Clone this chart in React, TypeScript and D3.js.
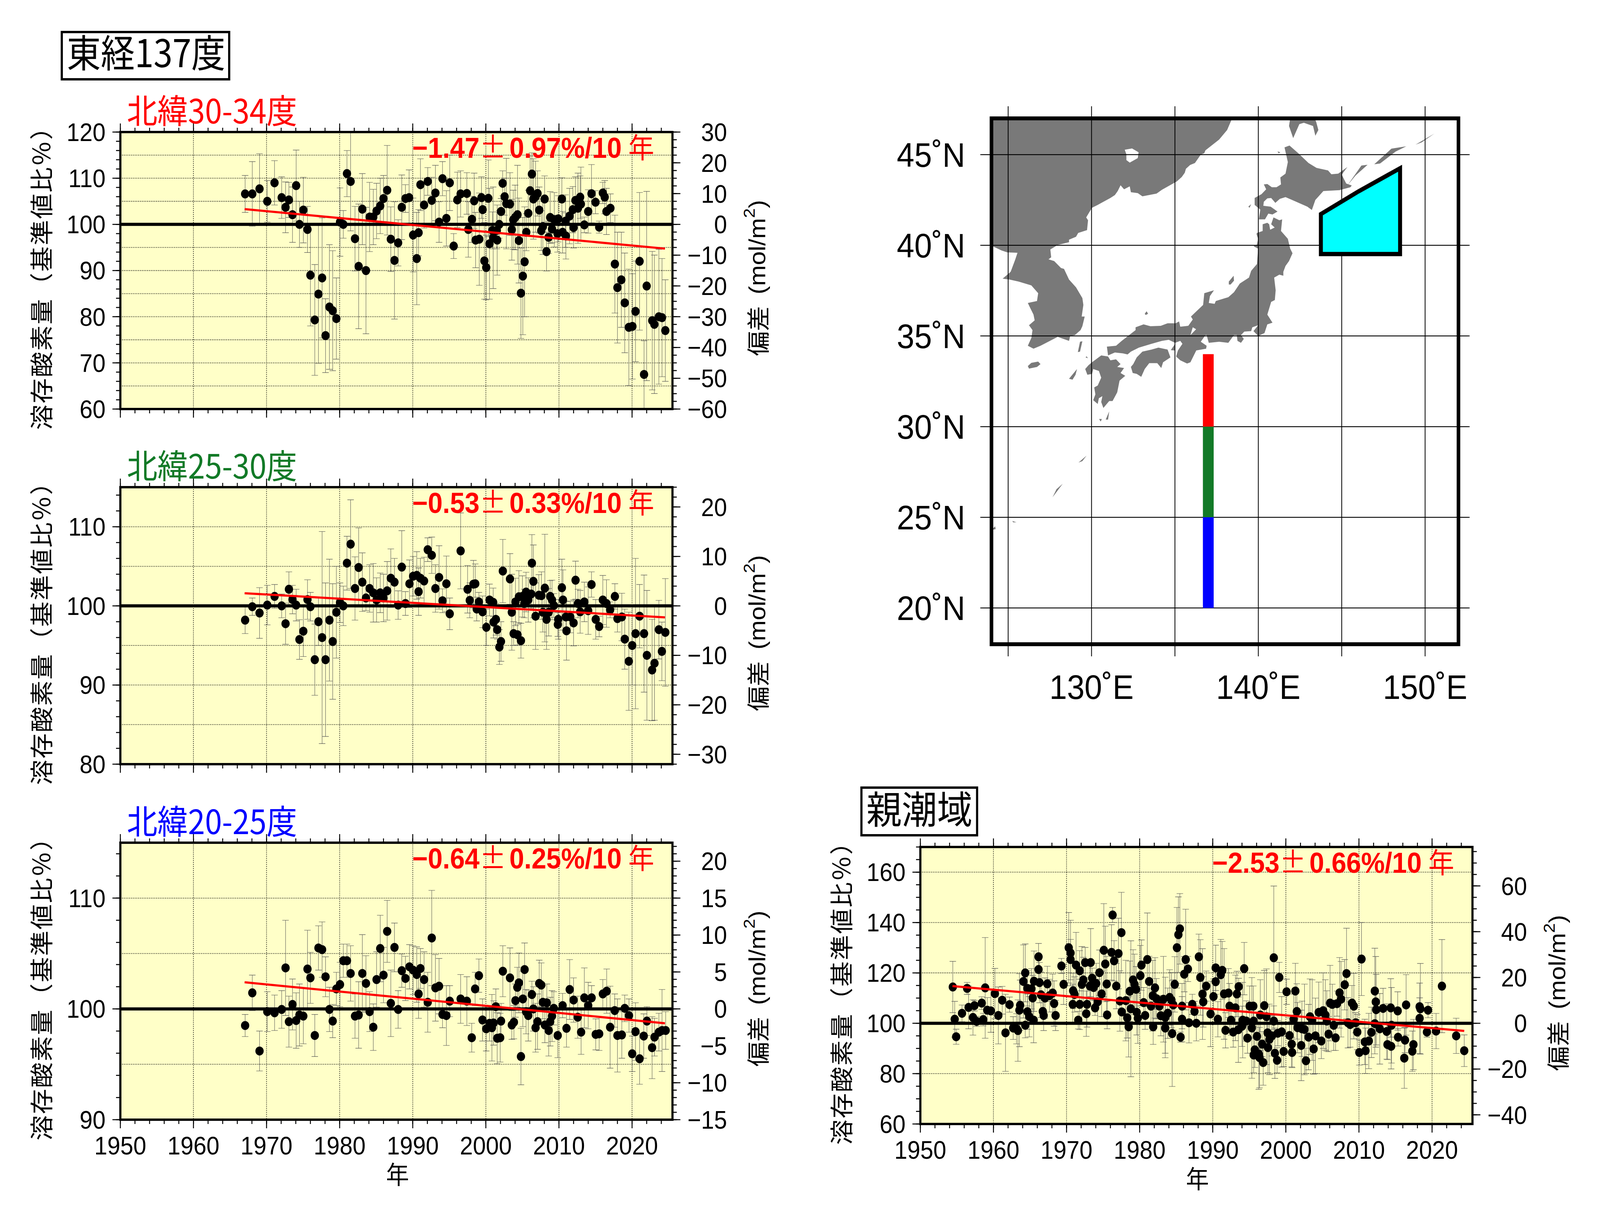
import React from "react";
import * as d3 from "d3";

type P = [number, number, number];

// year, percent of reference, half error
const dataN30: P[] = [[1967.07,106.6,4],[1968.05,106.6,7],[1969.04,107.7,7.6],[1970.1,105,4.5],[1971.09,109,4.8],[1972.07,105.8,4.5],[1972.6,103.7,5.5],[1973.06,105.3,3.8],[1973.55,102.1,6],[1974.05,108.4,7.7],[1974.5,100,5],[1975.03,103.1,7.1],[1975.6,98.9,5],[1976,89,11],[1976.6,79.3,12],[1977.1,84.9,15],[1977.6,88.4,13],[1978.07,75.9,8],[1978.6,82.1,13.5],[1979.05,81.3,13],[1979.55,79.6,8.8],[1980.05,100.5,7.4],[1980.5,100,3],[1981,111,5],[1981.5,109.3,10.7],[1982.1,96.9,7],[1982.6,90.9,13.5],[1983.1,103.3,7.7],[1983.6,90,13.7],[1984.1,101.6,7.5],[1984.6,101.6,6],[1985.05,102.9,6],[1985.55,104,6],[1986,105.6,5],[1986.5,107.4,9.7],[1987,96.8,7],[1987.5,92.2,12.7],[1988,96,5],[1988.5,103.7,7],[1989,105.6,3],[1989.5,105.8,6],[1990.05,97.7,8],[1990.55,92.6,10],[1990.8,98.2,5],[1991.05,108.6,5.6],[1991.55,104.2,5],[1992.05,109.3,3],[1992.6,105.2,5],[1993.1,106.8,6],[1993.6,100.5,4.4],[1994.07,109.9,3.7],[1994.6,101.3,6],[1995.06,109,6],[1995.6,95.3,2.7],[1996.1,105.3,6],[1996.55,106.6,5],[1997.4,106.7,4.5],[1997.6,98.9,6],[1998.1,101.1,5],[1998.4,105.1,6],[1998.6,96.6,6],[1999.1,96.8,10],[1999.4,105.8,4.5],[1999.56,103.2,3],[1999.8,92.1,8.3],[2000.05,90.65,7],[2000.34,105.65,8.3],[2000.5,95.8,12],[2000.9,98.7,4],[2001,97.1,11],[2001.5,98.7,4],[2001.55,96.6,7.6],[2001.83,100,3],[2002.08,102.8,2.8],[2002.3,108.9,2.7],[2002.57,106,4],[2002.8,104.5,9.8],[2003.3,104.4,6.8],[2003.55,98.85,6.6],[2003.75,101,6.4],[2004,101.5,7],[2004.33,102.1,10.7],[2004.52,96.5,9.2],[2004.8,85.1,9.8],[2005.06,88.8,12.7],[2005.3,91.9,11.9],[2005.53,98.3,4],[2005.8,102.4,5],[2006.06,107.3,7.5],[2006.3,110.9,4.6],[2006.5,105.5,8.7],[2006.8,106,7.7],[2007.07,106.7,4.9],[2007.3,103.1,5],[2007.58,98.65,4.3],[2007.8,99.5,6],[2008.04,105.5,5],[2008.3,94.1,4.2],[2008.58,97.2,3.5],[2008.8,101.5,5.6],[2009.05,99,3],[2009.36,101,5.9],[2009.8,98,4],[2009.9,101.2,5],[2010.4,105.5,4.6],[2010.5,98.3,4.5],[2010.9,100.7,5.7],[2010.95,97.5,5],[2011.45,101.8,6],[2011.9,103.2,5],[2012,99.3,4.4],[2012.25,105.2,5.1],[2012.6,103.5,7.6],[2012.9,105.9,4.6],[2013,104.4,8],[2013.47,99.9,1.7],[2014,102.8,4.7],[2014.45,106.65,6.3],[2015,104.8,2.5],[2015.5,99.4,1.3],[2016,106.8,2.3],[2016.26,105.9,3.6],[2016.5,102.8,5],[2017.04,103.5,3.1],[2017.65,91.4,10.6],[2018,86.3,12],[2018.53,88,10.3],[2019,83,10.8],[2019.56,77.7,12.6],[2020.05,77.9,11.4],[2020.47,81.15,10.9],[2021.03,92,14.9],[2021.64,67.5,7.3],[2022,86.65,20.5],[2022.76,79.15,15],[2023.05,78.35,15],[2023.67,80,14.6],[2024.1,79.8,12.8],[2024.55,77,11]];

const dataN25: P[] = [[1967.07,98.2,1.7],[1968.05,99.9,1.1],[1969.04,99.1,3.2],[1970.1,100.1,2.5],[1971.1,101.2,1.5],[1972.07,100,1.5],[1972.6,97.75,2.6],[1973.06,102.1,2.2],[1973.55,100.8,1.8],[1974.05,100.1,2],[1974.5,95.75,2.5],[1975.03,96.8,3.2],[1975.6,100.8,2.5],[1976,99.9,1.8],[1976.6,93.2,4.5],[1977.1,98,3],[1977.6,96,13.4],[1978.07,93.2,9.7],[1978.6,98.2,7.7],[1979.05,95.5,7.3],[1979.55,99.2,5.8],[1980.05,100.4,2.5],[1980.5,100,2.5],[1981,105.4,3.4],[1981.5,107.8,5.6],[1982.1,102.2,4],[1982.6,104.85,5],[1983.1,103,3.7],[1983.6,101,1.6],[1984.1,102.2,3],[1984.6,101.65,3.7],[1985.05,100.75,2.8],[1985.55,101.65,2.5],[1986,101,3],[1986.5,101.9,3.7],[1987,103.5,3.7],[1987.5,103,3],[1988,100.1,1.8],[1988.5,104.9,4.6],[1989,100.3,1.5],[1989.55,102.8,3],[1990.05,103.75,2.5],[1990.55,103.85,3],[1990.8,101.8,3],[1991.05,103.5,2.5],[1991.55,103.15,3],[1992.05,107.1,1.5],[1992.6,106.4,2.3],[1993.1,102.2,3],[1993.6,103.6,4],[1994.07,100.65,1.5],[1994.6,102.8,3.5],[1995.06,99,2],[1996.55,106.95,4.8],[1997.5,102.1,3],[1997.8,100.7,2.2],[1998.3,102.75,3],[1998.55,102.8,2.5],[1998.75,99.6,1.5],[1999.05,100.5,1.2],[1999.55,99.25,2],[2000.07,97.3,2.3],[2000.5,100.75,2],[2001,100.45,1.8],[2001.05,97.95,2],[2001.37,98.3,2],[2001.55,97,1.2],[2002.07,95.5,2.5],[2001.85,94.8,2.2],[2002.32,104.4,4],[2003.3,103.4,3.2],[2003.55,99.2,4.8],[2003.8,96.5,1.5],[2004.05,100.5,3],[2004.33,96.35,1.3],[2004.52,101.15,3.3],[2004.8,95.6,2.2],[2005,101.2,2.6],[2005.25,100.3,1.8],[2005.5,101.75,2.5],[2005.8,100.75,2.8],[2006.2,101.5,1.8],[2006.3,105.4,3.6],[2006.5,103.1,4.6],[2006.8,98.7,4.2],[2007.25,101.35,2.6],[2007.6,101.3,3],[2007.8,99.2,2.5],[2008.07,102.25,6.8],[2008.3,98.3,3.8],[2008.6,99.2,3],[2008.8,101.2,2],[2009.05,100.75,2.5],[2009.3,100.05,1.5],[2009.85,97.65,1.5],[2009.9,98.3,2.5],[2010.4,102.3,3.6],[2010.55,100.75,3.8],[2010.95,98.6,2],[2011.03,96.85,3.7],[2011.55,98.6,2],[2012,97.85,2.9],[2012.27,103.25,2.4],[2012.6,100.3,1.8],[2012.9,99.25,2.7],[2013.47,100.5,2.5],[2014,99.4,3],[2014.45,102.7,1.6],[2015.03,98.3,2.5],[2015.5,97.4,1.3],[2016,100.75,3.1],[2016.5,100.3,3],[2017,99.5,1],[2017.65,101.2,1.6],[2018,98.4,1.7],[2018.6,98.6,3],[2019,95.8,3.8],[2019.56,93,6.2],[2020.02,95,5],[2020.47,96.5,9.5],[2021.03,98.7,4],[2021.64,96.5,7.4],[2022.03,93.75,8.2],[2022.74,91.9,6.4],[2023.07,92.75,7.2],[2023.67,97,3.7],[2024.08,94.25,3.7],[2024.55,96.65,6.8]];

const dataN20: P[] = [[1967.07,98.5,1],[1968.05,101.45,1.6],[1969.04,96.2,1.8],[1970.1,99.75,1.8],[1971.1,99.65,1.6],[1972.07,99.95,1.7],[1972.6,103.7,4.3],[1973.06,98.85,2.3],[1973.55,100.4,2.3],[1974.05,98.95,2.5],[1974.5,99.45,2.8],[1975.03,99.35,2.5],[1975.6,103.6,3.5],[1976,102.8,2.3],[1976.6,97.6,1.9],[1977.1,105.5,2],[1977.6,105.35,2.5],[1978.07,102.9,1.8],[1978.6,99.95,2],[1979.05,98.9,1.5],[1979.55,101.8,1.5],[1980.05,102.2,2],[1980.5,104.35,1.5],[1981,104.35,1.5],[1981.5,103.2,2.5],[1982.1,99.35,2],[1982.6,99.45,3],[1983.1,103.2,3.5],[1983.6,102.3,2.5],[1984.1,99.75,1.8],[1984.6,98.35,2.1],[1985.05,102.65,2.5],[1985.55,105.45,3],[1986,103.05,2.5],[1986.5,107,2.8],[1987,100.5,3],[1987.5,105.55,2.2],[1988,99.95,1.7],[1988.5,103.45,1.5],[1989,102.75,2],[1989.55,103.8,2],[1990.05,103.5,2.2],[1990.55,103.1,2.5],[1990.8,101.35,2.2],[1991.05,103.65,1.8],[1991.55,102.65,2.5],[1992.05,100.6,2.7],[1992.6,106.4,4.3],[1993.1,101.9,3],[1993.6,102.05,2.5],[1994.07,99.5,1.2],[1994.6,99.4,2.7],[1995.06,100.7,1.4],[1996.55,100.9,2.2],[1997.4,100.7,2.2],[1998.07,97.4,1.3],[1998.53,101.8,1.5],[1999.05,103,1.5],[1999.54,99,1.9],[2000.05,98.2,2],[2000.5,98.7,1.6],[2000.83,98.3,3],[2001.05,98.73,2],[2001.37,100.2,1.6],[2001.55,97.35,2.3],[2001.96,97.4,2.2],[2002.08,98.9,1.6],[2002.32,103.4,2.3],[2003.3,102.8,2.7],[2003.55,98.55,1.3],[2003.84,98.8,1.5],[2004.05,100.75,1.5],[2004.3,101.95,1.8],[2004.52,102.35,2.7],[2004.8,95.7,2.55],[2005.06,100.9,2.5],[2005.3,103.55,2.4],[2005.5,99.75,2],[2005.8,99.4,2.3],[2006.3,101.3,1.2],[2006.5,100,2],[2006.8,98.3,2.2],[2007.07,98.85,2.5],[2007.3,102.3,2.1],[2007.58,102.15,2],[2007.8,100.6,1.5],[2008.07,98.55,1.6],[2008.34,100.55,1.7],[2008.6,98.05,2.3],[2008.8,98.85,2.2],[2009.05,99.35,2.3],[2009.3,100.05,1.5],[2009.83,97.6,2],[2010.5,100.3,1.1],[2011.03,98.25,1.7],[2011.47,101.75,2.7],[2012,100.8,2],[2012.57,99.25,1.9],[2013.03,97.9,2],[2013.47,101,2.7],[2014,100.3,2.1],[2014.47,101,1.1],[2015.03,97.7,1.4],[2015.5,97.75,1.5],[2016,101.35,1.3],[2016.53,101.6,2],[2017,98.35,3.7],[2017.63,99.85,1.5],[2018,97.6,3.3],[2018.6,97.65,2.1],[2019,100.05,1.2],[2019.58,99.4,1.5],[2020.02,95.95,1.6],[2020.47,97.95,2.6],[2021.03,95.5,2.3],[2021.6,97.55,2],[2022.03,98.9,1.3],[2022.74,96.5,2.8],[2023.07,97.45,1.7],[2023.67,97.9,1.7],[2024.1,98.05,3.7],[2024.6,98.05,1.7]];

const dataOyashio: P[] = [[1954.44,114.4,10.2],[1954.7,101.6,7.1],[1954.9,94.65,3],[1955.7,103.95,3.3],[1956.4,113.85,2.4],[1956.6,106.3,8.5],[1957.2,102.3,7],[1957.4,107,2.1],[1957.7,100.75,2],[1958.4,108,2.5],[1958.6,101.45,2.5],[1958.87,114.05,20],[1959.15,105.2,5],[1959.65,104.9,8.5],[1960.2,111.8,10],[1960.67,103.1,11.3],[1961.2,109.15,5.5],[1961.65,96.2,15.3],[1962.2,107.4,3],[1962.7,98.1,4.5],[1963.15,97.8,6],[1963.35,97.1,12.2],[1963.55,105.2,14.5],[1963.65,107.15,10],[1964.1,116.6,14.5],[1964.35,120,11.5],[1964.35,99.2,5],[1964.65,113.85,7],[1964.65,104.6,7],[1964.9,102.6,8],[1965.2,113.7,8],[1965.37,110.05,9],[1965.5,101.25,9],[1965.55,116.7,12],[1966.17,121.35,5],[1966.17,126.4,5.3],[1966.3,116.15,8],[1966.5,111.3,9],[1966.75,104.7,5],[1966.87,103.1,6],[1967.05,110,8],[1967.37,115.65,7],[1967.67,110.95,6.5],[1968.1,112,7.5],[1968.3,107.85,9],[1968.5,103.1,6],[1969.3,122.75,3],[1969.6,115.45,8],[1970.3,130,14],[1970.55,127.9,13],[1970.55,125.3,8],[1970.85,107.5,8],[1970.9,112.9,7],[1971.1,111.45,7],[1971.3,123.1,13],[1971.6,101.25,3.5],[1971.8,107.5,10],[1971.8,120.85,8],[1972.1,115.45,15],[1972.3,117.2,9],[1972.55,124.1,6],[1972.7,103.8,9],[1972.8,107.5,9],[1973.2,114.75,8],[1973.3,124.1,13.5],[1973.5,117.9,4],[1973.7,114.2,5],[1973.9,106.1,3],[1974.05,115.8,8],[1974.25,108.5,9],[1974.5,120.1,9],[1974.8,111.65,9],[1975.1,129,18.5],[1975.3,123.55,15],[1975.5,115.6,11],[1975.55,103.3,5.5],[1976.15,128.15,11],[1976.3,143,3],[1976.5,124.8,8],[1976.8,114.75,9],[1977.1,127.7,14],[1977.3,108.85,12],[1977.5,136,16],[1977.55,104.5,5],[1978.1,109,16],[1978.3,102.15,8],[1978.5,98.6,12],[1978.65,112.7,12],[1978.8,105.75,27],[1979.1,117.2,12],[1979.3,115.45,12],[1979.5,113.5,9],[1979.6,104.35,9],[1979.75,102,10],[1980.1,118.9,12],[1980.25,123.1,10],[1980.55,108.2,6],[1980.75,103.1,5.5],[1981.05,125.3,18.5],[1981.3,116.6,10],[1981.55,106.8,7],[1981.8,110.95,14],[1981.85,98.6,7],[1982.1,114.05,12],[1982.3,109.75,8],[1982.7,106.8,3],[1982.9,103,8],[1983.25,109.55,17],[1983.5,102.3,16],[1983.5,98.1,10],[1983.85,104,10],[1984.1,110.25,11],[1984.35,109.2,11],[1984.6,107.3,10],[1984.45,95.9,21],[1984.8,115.45,11],[1985.1,130,16],[1985.3,135.2,15],[1985.5,137.5,14],[1985.6,94.5,2],[1985.8,106.8,9],[1985.8,101.6,9],[1986.1,119.5,7],[1986.3,125.3,20],[1986.6,121.55,5],[1986.75,100.2,8],[1987.2,107.5,4],[1987.5,104.7,4],[1987.75,100,7],[1988.1,126.4,9],[1988.3,118.2,15],[1988.6,111.6,18],[1988.7,108.5,10],[1989.1,114.75,6],[1989.7,103.7,13],[1990.1,110.6,7],[1990.4,122,9],[1990.4,116.5,5],[1990.7,101.6,7],[1991.1,119.3,14],[1991.3,121,11.5],[1991.55,111.65,18],[1991.75,97.2,7],[1992.15,112,9.7],[1992.3,106.8,9],[1992.5,101.25,6],[1992.8,96.5,6],[1993.1,106.1,13],[1993.3,111.65,9],[1993.5,97.45,13],[1993.55,114.55,3.3],[1994,98.8,8],[1994.1,101.25,15],[1994.3,121.7,10.4],[1994.6,100.9,8],[1994.75,94.1,6],[1995.05,106.8,8],[1995.35,98.15,20],[1995.55,106.8,8],[1995.6,100.9,7],[1995.6,87.4,7],[1995.75,89.45,7],[1996.05,94.8,5],[1996.3,87.75,14],[1996.4,86.35,12],[1996.5,103.3,14],[1996.75,91.7,5],[1996.9,84.4,9],[1997.05,107,14],[1997.35,102.6,19],[1997.5,96.2,5],[1997.55,90.35,10],[1997.75,93.6,14],[1998.1,95,8],[1998.35,100.9,6],[1998.35,126,28.5],[1998.5,88.1,10],[1998.8,85.3,5],[1998.9,96.05,5],[1999.1,118.2,6],[1999.43,96.6,14],[1999.7,88.8,6],[2000.1,112.5,5],[2000.5,95.15,7],[2000.8,91.7,9],[2000.85,88.4,6],[2001.07,101.6,10],[2001.3,112.8,11],[2001.5,104.7,11],[2001.6,98.25,10],[2002.1,91.2,14],[2002.2,97.8,11],[2002.55,97.55,18],[2002.75,85.1,5],[2003.1,94.5,13],[2003.3,102.6,15],[2003.6,101.25,16],[2003.8,89.8,10],[2004.05,95,15],[2004.5,104.35,12],[2004.85,92.95,7],[2005.1,105,15],[2005.4,103.3,14],[2005.6,100.9,12],[2005.85,95.7,7],[2006.05,108,15],[2006.35,107.5,8],[2006.55,99.2,10],[2006.8,94.2,5],[2007,107.8,5],[2007.35,112.1,14],[2007.55,109.55,15],[2008.05,115.3,10],[2008.3,119.75,18],[2008.5,100.2,10],[2008.8,99.5,9],[2009.05,108,7],[2009.3,106.8,13],[2009.55,100.2,4],[2009.77,96.5,7],[2010.05,88.4,5],[2010.35,125.5,14.5],[2010.8,92.6,9],[2010.9,89.1,9],[2011.35,92.95,11],[2011.7,96.4,10],[2012.17,112.8,17],[2012.17,99.85,12],[2012.3,108.5,18],[2012.35,105.4,14],[2012.85,97.8,14],[2013.3,105.9,8],[2013.8,96.75,11],[2013.9,91.55,6],[2014.35,106.1,11.6],[2014.4,90.85,9],[2014.45,99.2,15],[2015.3,104.9,7.6],[2015.35,94.45,3.5],[2016.2,86.15,12],[2016.3,93.3,5],[2016.45,107.3,12],[2017.3,88.9,8],[2017.45,91.55,10],[2018.3,106.6,3.5],[2018.3,101.95,14],[2018.4,105.75,18],[2019.3,96.5,2],[2019.45,105.2,3],[2020.55,96.9,7],[2021.35,114.75,18.5],[2023.3,95,7],[2024.4,89.1,6.3]];

// trend: [year, percent] ends
const trendN30: [number, number][] = [[1967, 103.3], [2024.5, 94.75]];
const trendN25: [number, number][] = [[1967, 101.6], [2024.5, 98.55]];
const trendN20: [number, number][] = [[1967, 102.4], [2024.5, 98.7]];
const trendOyashio: [number, number][] = [[1954.4, 114.75], [2024.4, 96.95]];

const decades = [1950, 1960, 1970, 1980, 1990, 2000, 2010, 2020];

// map: lon, lat
const landMainland: [number, number][] = [[124,47],[138.43,47],[138.13,46.36],[137.65,45.83],[136.83,45.24],[136.76,45.08],[136.55,45],[136.2,44.54],[135.91,44.43],[135.66,44.22],[135.59,44],[135.41,43.77],[135.11,43.52],[134.97,43.45],[134.22,43.06],[133.9,42.85],[133.05,42.7],[132.77,42.88],[132.36,42.93],[132.29,43.25],[131.95,43.09],[131.74,43.31],[131.57,42.99],[131.4,42.77],[131.13,42.61],[130.71,42.4],[130.37,42.23],[130.03,42.07],[129.89,41.86],[129.68,41.54],[129.79,41.38],[129.73,40.84],[129.2,40.68],[129.07,40.47],[128.65,40.31],[128.65,40.17],[127.97,40.02],[127.53,39.77],[127.58,39.34],[127.42,39.23],[127.76,39.13],[128.17,38.75],[128.35,38.7],[128.65,38.11],[129.07,37.68],[129.45,37.09],[129.51,36.71],[129.41,36.07],[129.59,36.07],[129.45,35.54],[129.34,35.32],[129,35.05],[128.72,35],[128.65,34.73],[127.97,34.95],[127.28,34.62],[126.94,34.46],[126.52,34.3],[126.18,34.46],[126.39,34.89],[126.46,35.32],[126.25,35.59],[126.59,35.86],[126.52,36.18],[126.32,36.55],[126.18,36.82],[126.73,36.93],[126.8,37.36],[126.39,37.79],[125.63,38],[125.08,38.11],[124.67,38.16],[125.15,38.54],[125.43,39.23],[125.56,39.59],[124.95,39.61],[124.6,39.72],[124.12,39.93],[124,40]];
const lakeKhanka: [number, number][] = [[131.99,45.27],[132.43,45.34],[132.82,45.13],[132.77,44.81],[132.29,44.56],[132.09,44.7],[132.09,45.02]];
const lakeBiwa: [number, number][] = [[135.93,35.05],[136.27,35.37],[136.07,35.48]];
const landHonshu: [number, number][] = [[139.92,40.68],[140.26,40.79],[140.26,41.16],[140.54,41.24],[140.65,41.16],[140.71,40.86],[141.02,41],[141.15,40.84],[140.77,41.16],[140.91,41.54],[141.26,41.38],[141.43,41.43],[141.36,40.79],[141.77,40.36],[141.91,39.82],[142.05,39.56],[141.84,39.13],[141.63,38.86],[141.5,38.54],[141.5,38.32],[141.26,38.38],[140.95,38.22],[141.04,37.52],[140.99,36.98],[140.77,36.88],[140.54,36.18],[140.85,35.73],[140.54,35.64],[140.37,35.16],[139.99,35],[139.71,35.27],[139.99,35.59],[139.64,35.48],[139.57,35.27],[139.16,35.24],[138.96,35.05],[139.13,34.84],[138.96,34.62],[138.75,34.73],[138.71,35.05],[138.54,35.05],[138.2,34.62],[137.65,34.68],[137.03,34.62],[136.9,35.05],[136.83,35.05],[136.55,34.68],[136.9,34.46],[136.87,34.3],[136.28,34.2],[135.93,33.55],[135.73,33.48],[135.32,33.66],[135.07,33.87],[135.18,34.2],[135.45,34.57],[135.32,34.73],[135.01,34.62],[134.63,34.79],[134.22,34.73],[133.6,34.57],[132.84,34.36],[132.36,34.14],[132.16,33.98],[131.88,34.04],[131.4,34.09],[130.99,33.93],[130.92,34.41],[131.47,34.46],[131.81,34.73],[132.64,35.32],[132.64,35.48],[133.12,35.64],[133.53,35.54],[134.15,35.56],[134.56,35.7],[135.04,35.7],[135.25,35.8],[135.32,35.51],[135.8,35.56],[136.07,35.91],[135.96,36.07],[136.21,36.29],[136.69,36.71],[136.76,37.36],[137.34,37.52],[137.1,37.2],[137.03,36.82],[137.38,36.77],[137.45,36.93],[138.2,37.14],[138.54,37.41],[138.89,37.89],[139.44,38.22],[139.57,38.59],[139.92,38.97],[139.99,39.82],[139.71,39.95],[139.92,40.04],[139.99,40.36],[139.89,40.63]];
const landHokkaido: [number, number][] = [[141.87,45.5],[142.39,45.08],[143.01,44.54],[143.49,44.27],[144.18,44.13],[144.38,43.92],[144.79,43.95],[145.34,44.32],[145,43.9],[145.27,43.41],[145.6,43.3],[145.52,43.2],[144.86,43.04],[143.9,42.99],[143.42,42.5],[143.21,41.95],[142.94,42.13],[141.63,42.66],[141.29,42.56],[141.02,42.34],[140.77,42.61],[140.54,42.59],[140.33,42.4],[140.3,42.18],[140.74,42.13],[141.15,41.86],[140.85,41.7],[140.6,41.75],[140.4,41.43],[140.03,41.43],[140.12,41.97],[139.78,42.23],[139.78,42.61],[140.19,42.82],[140.47,43.09],[140.33,43.36],[140.54,43.38],[140.81,43.2],[141.09,43.2],[141.36,43.36],[141.32,43.74],[141.63,43.95],[141.77,44.59],[141.57,45.4]];
const landSakhalin: [number, number][] = [[141.84,46.58],[142.09,45.91],[142.46,46.68],[142.73,46.76],[143.28,46.58],[143.42,46.04],[143.6,46.36],[143.46,46.84],[143.35,47],[141.91,47]];
const landShikoku: [number, number][] = [[132.5,33.45],[132.71,33.82],[133.05,34.14],[133.6,34.25],[134.01,34.36],[134.56,34.25],[134.73,33.82],[134.29,33.55],[134.18,33.23],[133.94,33.5],[133.46,33.5],[133.19,33.18],[132.98,32.75],[132.71,32.91],[132.47,32.96],[132.36,33.29]];
const landKyushu: [number, number][] = [[130.03,33.55],[130.58,33.93],[130.99,33.87],[131.13,33.66],[131.47,33.71],[131.74,33.45],[131.54,33.29],[131.95,33.23],[131.74,32.96],[132.02,32.8],[131.68,32.54],[131.54,31.89],[131.26,31.41],[131.06,31.41],[130.71,31.03],[130.58,31.36],[130.65,31.68],[130.44,31.57],[130.37,31.25],[130.1,31.46],[130.23,31.78],[130.16,32.16],[130.37,32.27],[130.58,32.7],[130.44,33.07],[130.1,33.18],[130.03,32.91],[129.75,32.86],[129.62,33.18],[129.82,33.39]];
const smallIslands: [number, number][][] = [
  [[126.18,33.34],[126.39,33.52],[126.8,33.59],[126.94,33.45],[126.73,33.29],[126.25,33.2]],
  [[129.18,34.11],[129.31,34.68],[129.45,34.71],[129.31,34.14]],
  [[138.23,38],[138.52,38.32],[138.54,38.05],[138.34,37.84],[138.23,37.84]],
  [[133.19,36.23],[133.3,36.36],[133.39,36.23],[133.25,36.16]],
  [[130.85,30.39],[131.06,30.84],[130.99,30.39]],
  [[130.45,30.42],[130.62,30.42],[130.55,30.28]],
  [[128.65,32.64],[129.13,33.18],[129.04,32.86],[128.86,32.59]],
  [[141.15,45.18],[141.32,45.13],[141.22,45.07]],
  [[139.4,42.13],[139.57,42.27],[139.48,42.07]],
  [[145.34,43.3],[146.18,44.4],[146.55,44.44],[145.83,43.85]],
  [[146.95,44.47],[147.98,45.33],[148.87,45.46],[148.23,45.17],[147.3,44.51]],
  [[149.43,45.55],[150.55,46.16],[149.8,45.68]],
  [[127.66,26.1],[128.27,26.85],[127.9,26.55]],
  [[129.22,28.02],[129.7,28.4],[129.45,28.1]],
  [[124,24.3],[124.22,24.5],[124.25,24.35]],
  [[125.25,24.8],[125.5,24.72],[125.3,24.72]],
  [[129.64,33.82],[129.71,33.88],[129.78,33.77]],
  [[135,34.55],[135,34.2],[134.75,34.22]],
];
const oyashioArea: [number, number][] = [[143.75,41.72],[146,42.97],[148.5,44.25],[148.5,39.52],[143.75,39.52]];
const transectN30: [number, number][] = [[137,34],[137,30]];
const transectN25: [number, number][] = [[137,30],[137,25]];
const transectN20: [number, number][] = [[137,25],[137,20]];
const mapLons = [125, 130, 135, 140, 145, 150];
const mapLats = [20, 25, 30, 35, 40, 45];
const mapLonLabels = [130, 140, 150];

const SANS = "'Liberation Sans', Arimo, Helvetica, sans-serif";
const CJK = "'Noto Sans CJK JP', sans-serif";
const RED = "#ff0000";
const GREEN = "#127a27";
const BLUE = "#0000ff";
const BG = "#ffffc8";

type PanelCfg = {
  left: number; top: number;
  yDomain: [number, number];
  k: number;
  leftMajor: number[]; leftMinor: number; gridStep: number;
  rightMajor: number[]; rightMinor: number;
  data: P[]; trend: [number, number][];
  slope: string; margin: string;
  title?: string; titleColor?: string;
  showYear?: boolean; id: string;
};

const PW = 1537;
const PH = 709;
const fmt = (v: number) => (v < 0 ? "\u2212" + Math.abs(v) : String(v));

function Panel(c: PanelCfg) {
  const x = d3.scaleLinear().domain([1950, 1950 + PW / 20.35]).range([c.left, c.left + PW]);
  const y = d3.scaleLinear().domain(c.yDomain).range([c.top + PH, c.top]);
  const rd: [number, number] = [(c.yDomain[0] - 100) * c.k, (c.yDomain[1] - 100) * c.k];
  const yr = d3.scaleLinear().domain(rd).range([c.top + PH, c.top]);
  const R = c.left + PW, B = c.top + PH;
  const line = d3.line<[number, number]>().x((d) => x(d[0])).y((d) => y(d[1]));
  const gridY = d3.range(Math.ceil(c.yDomain[0] / c.gridStep) * c.gridStep, c.yDomain[1] + 0.01, c.gridStep);
  const minorX = d3.range(1950, 2026, 2);
  const minorLeft = d3.range(c.yDomain[0], c.yDomain[1] + 0.01, c.gridStep === 20 ? 5 : 2);
  const minorRight = d3.range(Math.ceil(rd[0] / c.rightMinor) * c.rightMinor, rd[1] + 0.01, c.rightMinor);
  const cy = c.top + PH / 2;
  return (
    <g>
      <defs><clipPath id={c.id}><rect x={c.left} y={c.top} width={PW} height={PH} /></clipPath></defs>
      <rect x={c.left} y={c.top} width={PW} height={PH} fill={BG} />
      <g stroke="#000" strokeWidth={1.8} strokeDasharray="2 3">
        {decades.slice(1).map((d) => <line key={d} x1={x(d)} x2={x(d)} y1={c.top} y2={B} />)}
        {gridY.map((d) => <line key={d} x1={c.left} x2={R} y1={y(d)} y2={y(d)} />)}
      </g>
      <g clipPath={`url(#${c.id})`} stroke="#555" strokeWidth={1.1} fill="none">
        {c.data.map((d, i) => (
          <path key={i} d={`M${x(d[0])},${y(d[1] - d[2])}V${y(d[1] + d[2])}M${x(d[0]) - 9},${y(d[1] - d[2])}h18M${x(d[0]) - 9},${y(d[1] + d[2])}h18`} />
        ))}
      </g>
      <line x1={c.left} x2={R} y1={y(100)} y2={y(100)} stroke="#000" strokeWidth={8} />
      {c.data.map((d, i) => <circle key={i} cx={x(d[0])} cy={y(d[1])} r={11.5} fill="#000" />)}
      <path d={line(c.trend) || ""} stroke={RED} strokeWidth={5.5} fill="none" />
      {/* frame and ticks */}
      <g stroke="#000" strokeWidth={2.6} fill="none">
        {minorX.map((d) => <path key={d} d={`M${x(d)},${c.top}v-11M${x(d)},${B}v11`} />)}
        {decades.map((d) => <path key={d} d={`M${x(d)},${c.top}v-22M${x(d)},${B}v22`} />)}
        {minorLeft.map((d) => <line key={d} x1={c.left} x2={c.left - 12} y1={y(d)} y2={y(d)} />)}
        {c.leftMajor.map((d) => <line key={d} x1={c.left} x2={c.left - 22} y1={y(d)} y2={y(d)} />)}
        {minorRight.map((d) => <line key={d} x1={R} x2={R + 12} y1={yr(d)} y2={yr(d)} />)}
        {c.rightMajor.map((d) => <line key={d} x1={R} x2={R + 22} y1={yr(d)} y2={yr(d)} />)}
      </g>
      <rect x={c.left} y={c.top} width={PW} height={PH} fill="none" stroke="#000" strokeWidth={6} />
      <g fontFamily={SANS} fontSize={65} fill="#000">
        {c.leftMajor.map((d) => <text key={d} x={c.left - 41} y={y(d) + 23} textAnchor="end">{d}</text>)}
        {c.rightMajor.map((d) => <text key={d} x={R + 152} y={yr(d) + 23} textAnchor="end">{fmt(d)}</text>)}
        {c.showYear && decades.map((d) => <text key={d} x={x(d)} y={B + 89} textAnchor="middle">{d}</text>)}
      </g>
      {c.showYear && <text x={c.left + PW / 2 + 3} y={B + 164} textAnchor="middle" fontFamily={CJK} fontSize={64}>年</text>}
      {c.title && (
        <text x={c.left + 18} y={c.top - 22} fontFamily={CJK} fontSize={86} fill={c.titleColor} textLength={474} lengthAdjust="spacingAndGlyphs">{c.title}</text>
      )}
      <text transform={`translate(${c.left - 223},${cy + 3}) rotate(-90)`} textAnchor="middle" dominantBaseline="central" fontFamily={CJK} fontSize={65} letterSpacing={2.5}>溶存酸素量（基準値比％）</text>
      <text transform={`translate(${R + 235},${cy + 19}) rotate(-90)`} textAnchor="middle" dominantBaseline="central" fontSize={64}>
        <tspan fontFamily={CJK}>偏差</tspan>
        <tspan fontFamily={SANS} dx={30}>(mol/m</tspan>
        <tspan fontFamily={SANS} fontSize={45} dy={-22}>2</tspan>
        <tspan fontFamily={SANS} dy={22}>)</tspan>
      </text>
      {/* trend annotation */}
      <g fill={RED}>
        <text x={R - 537} y={c.top + 66} textAnchor="end" fontFamily={SANS} fontWeight="bold" fontSize={74}>{c.slope}</text>
        <text x={R - 500} y={c.top + 66} textAnchor="middle" fontFamily={CJK} fontSize={74}>±</text>
        <text x={R - 454} y={c.top + 66} fontFamily={SANS} fontWeight="bold" fontSize={74}>{c.margin}%/10</text>
        <text x={R - 87} y={c.top + 66} textAnchor="middle" fontFamily={CJK} fontSize={72}>年</text>
      </g>
    </g>
  );
}

function MapPanel() {
  const L = 2760, T = 303, W = 1300, H = 1346;
  const lon = d3.scaleLinear().domain([124, 152]).range([L, L + W]);
  const lat = d3.scaleLinear().domain([18, 47]).range([T + H, T]);
  const path = d3.line<[number, number]>().x((d) => lon(d[0])).y((d) => lat(d[1]));
  const poly = (p: [number, number][]) => (path(p) || "") + "Z";
  const land = [landMainland, landHonshu, landHokkaido, landSakhalin, landShikoku, landKyushu, ...smallIslands];
  return (
    <g>
      <defs><clipPath id="mapclip"><rect x={L} y={T} width={W} height={H} /></clipPath></defs>
      <rect x={L} y={T} width={W} height={H} fill="#fff" />
      <g clipPath="url(#mapclip)">
        {land.map((p, i) => <path key={i} d={poly(p)} fill="#797979" />)}
        <path d={poly(lakeKhanka)} fill="#fff" />
        <path d={poly(lakeBiwa)} fill="#fff" />
      </g>
      <g stroke="#000" strokeWidth={2.2}>
        {mapLons.map((d) => <line key={d} x1={lon(d)} x2={lon(d)} y1={T - 31} y2={T + H + 31} />)}
        {mapLats.map((d) => <line key={d} x1={L - 31} x2={L + W + 31} y1={lat(d)} y2={lat(d)} />)}
      </g>
      <path d={path(transectN30) || ""} stroke={RED} strokeWidth={30} fill="none" />
      <path d={path(transectN25) || ""} stroke={GREEN} strokeWidth={30} fill="none" />
      <path d={path(transectN20) || ""} stroke={BLUE} strokeWidth={30} fill="none" />
      <path d={poly(oyashioArea)} fill="#00ffff" stroke="#000" strokeWidth={11} />
      <rect x={L} y={T} width={W} height={H} fill="none" stroke="#000" strokeWidth={10} />
      <g fontFamily={SANS} fontSize={88} fill="#000">
        {mapLats.map((d) => <text key={d} x={2687} y={lat(d) + 31} textAnchor="end">{d}˚N</text>)}
        {mapLonLabels.map((d) => <text key={d} x={lon(d)} y={1789} textAnchor="middle">{d}˚E</text>)}
      </g>
    </g>
  );
}

const panels: PanelCfg[] = [
  { id: "p1", left: 335, top: 338, yDomain: [60, 120], k: 1.5, leftMajor: [60,70,80,90,100,110,120], gridStep: 5, leftMinor: 2, rightMajor: [-60,-50,-40,-30,-20,-10,0,10,20,30], rightMinor: 2.5, data: dataN30, trend: trendN30, slope: "\u22121.47", margin: "0.97", title: "北緯30-34度", titleColor: RED },
  { id: "p2", left: 335, top: 1247, yDomain: [80, 115], k: 1.6, leftMajor: [80,90,100,110], gridStep: 5, leftMinor: 2, rightMajor: [-30,-20,-10,0,10,20], rightMinor: 2, data: dataN25, trend: trendN25, slope: "\u22120.53", margin: "0.33", title: "北緯25-30度", titleColor: GREEN },
  { id: "p3", left: 335, top: 2157, yDomain: [90, 115], k: 1.5, leftMajor: [90,100,110], gridStep: 5, leftMinor: 2, rightMajor: [-15,-10,-5,0,5,10,15,20], rightMinor: 1, data: dataN20, trend: trendN20, slope: "\u22120.64", margin: "0.25", title: "北緯20-25度", titleColor: BLUE, showYear: true },
  { id: "p4", left: 2562, top: 2168, yDomain: [60, 170], k: 1.1, leftMajor: [60,80,100,120,140,160], gridStep: 20, leftMinor: 5, rightMajor: [-40,-20,0,20,40,60], rightMinor: 5, data: dataOyashio, trend: trendOyashio, slope: "\u22122.53", margin: "0.66", showYear: true },
];

export default function App() {
  return (
    <svg viewBox="0 0 4454 3133" preserveAspectRatio="none" style={{ position: "absolute", left: 0, top: 0, width: "100vw", height: "100vh", display: "block", background: "#fff" }}>
      <rect x={172} y={82} width={466} height={121} fill="#fff" stroke="#000" strokeWidth={6} />
      <text x={186} y={172} fontFamily={CJK} fontSize={98} textLength={441} lengthAdjust="spacingAndGlyphs">東経137度</text>
      <rect x={2398} y={2016} width={322} height={122} fill="#fff" stroke="#000" strokeWidth={6} />
      <text x={2412} y={2108} fontFamily={CJK} fontSize={98} textLength={295} lengthAdjust="spacingAndGlyphs">親潮域</text>
      {panels.map((p) => <Panel key={p.id} {...p} />)}
      <MapPanel />
    </svg>
  );
}
